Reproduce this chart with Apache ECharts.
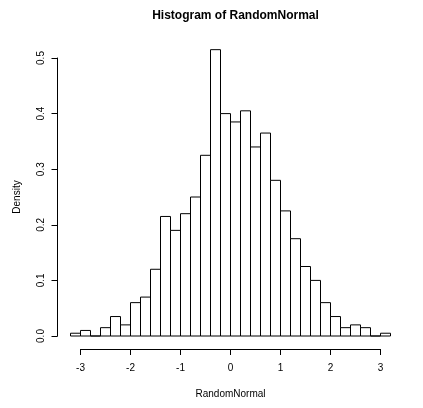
<!DOCTYPE html>
<html>
<head>
<meta charset="utf-8">
<script src="https://cdn.jsdelivr.net/npm/echarts@6/dist/echarts.min.js"></script>
<style>
  html, body { margin: 0; padding: 0; background: #fff; }
  #chart { width: 423px; height: 408px; }
</style>
</head>
<body>
<div id="chart"></div>
<script>
// Histogram bin edges (width 0.2) and the density of each bin
const breaks = [-3.2, -3.0, -2.8, -2.6, -2.4, -2.2, -2.0, -1.8, -1.6, -1.4, -1.2,
  -1.0, -0.8, -0.6, -0.4, -0.2, 0.0, 0.2, 0.4, 0.6, 0.8, 1.0, 1.2, 1.4, 1.6,
  1.8, 2.0, 2.2, 2.4, 2.6, 2.8, 3.0, 3.2];
const density = [0.005, 0.01, 0, 0.015, 0.035, 0.02, 0.06, 0.07, 0.12, 0.215,
  0.19, 0.22, 0.25, 0.325, 0.515, 0.4, 0.385, 0.405, 0.34, 0.365, 0.28, 0.225,
  0.175, 0.125, 0.1, 0.06, 0.035, 0.015, 0.02, 0.015, 0, 0.005];
const xTicks = [-3, -2, -1, 0, 1, 2, 3];
const yTicks = [0, 0.1, 0.2, 0.3, 0.4, 0.5];

const titleText = 'Histogram of RandomNormal';
const xName = 'RandomNormal';
const yName = 'Density';

const bins = density.map((d, i) => [breaks[i], breaks[i + 1], d]);

const font = 'Liberation Sans, Arial, Helvetica, sans-serif';
const chart = echarts.init(document.getElementById('chart'), null, { renderer: 'canvas' });

chart.setOption({
  animation: false,
  backgroundColor: '#fff',
  title: {
    text: titleText,
    left: 230.5,
    textAlign: 'center',
    top: 5,
    textStyle: { fontFamily: font, fontSize: 12, fontWeight: 'bold', color: '#000' }
  },
  grid: { left: 80.5, right: 42.5, top: 58, bottom: 72, containLabel: false },
  xAxis: {
    type: 'value',
    min: xTicks[0],
    max: xTicks[xTicks.length - 1],
    interval: 1,
    offset: 13,
    name: xName,
    nameLocation: 'middle',
    nameGap: 40,
    nameTextStyle: { fontFamily: font, fontSize: 10, color: '#000' },
    axisLine: { show: true, onZero: false, lineStyle: { color: '#000', width: 1 } },
    axisTick: { show: true, length: 6, lineStyle: { color: '#000' } },
    axisLabel: { fontFamily: font, fontSize: 10, color: '#000', margin: 14 },
    splitLine: { show: false }
  },
  yAxis: {
    type: 'value',
    min: yTicks[0],
    max: yTicks[yTicks.length - 1],
    interval: 0.1,
    offset: 23,
    name: yName,
    nameLocation: 'middle',
    nameGap: 35,
    nameRotate: 90,
    nameTextStyle: { fontFamily: font, fontSize: 10, color: '#000' },
    axisLine: { show: true, onZero: false, lineStyle: { color: '#000', width: 1 } },
    axisTick: { show: true, length: 6, lineStyle: { color: '#000' } },
    axisLabel: {
      fontFamily: font, fontSize: 10, color: '#000', margin: 11, rotate: 90,
      formatter: v => v.toFixed(1)
    },
    splitLine: { show: false }
  },
  series: [{
    type: 'custom',
    clip: false,
    data: bins,
    renderItem: function (params, api) {
      const p0 = api.coord([api.value(0), api.value(2)]);
      const p1 = api.coord([api.value(1), 0]);
      return {
        type: 'rect',
        shape: { x: p0[0], y: p0[1], width: p1[0] - p0[0], height: p1[1] - p0[1] },
        style: { fill: '#fff', stroke: '#000', lineWidth: 1 }
      };
    }
  }]
});
</script>
</body>
</html>
